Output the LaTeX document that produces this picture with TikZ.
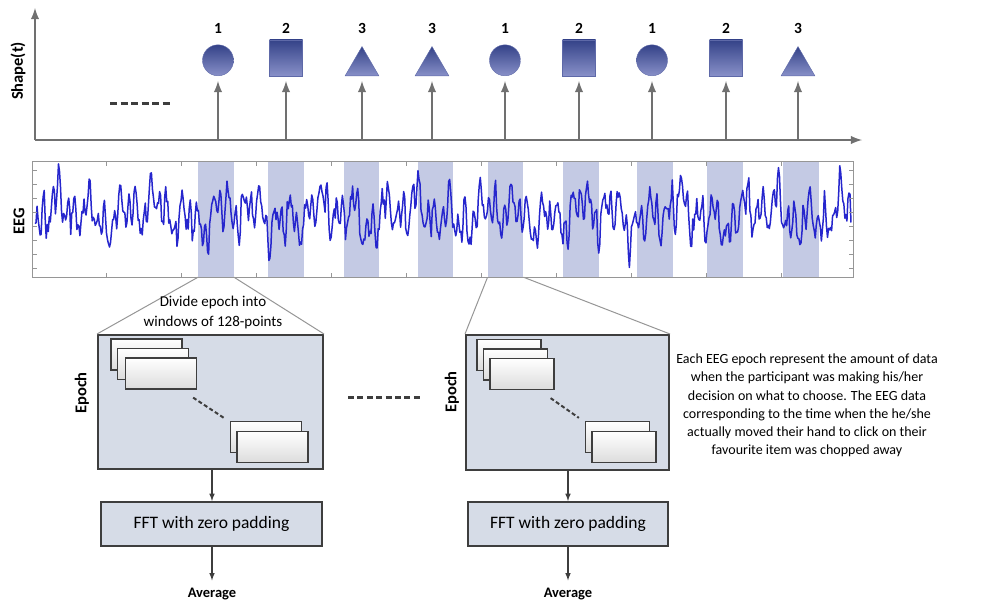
\documentclass[tikz,border=0pt]{standalone}
\usepackage{fontspec}
\setmainfont{Carlito}
\usepackage{tikz}
\usetikzlibrary{arrows,shapes.geometric,calc}

\definecolor{axisgrey}{RGB}{112,112,112}
\definecolor{shapetop}{RGB}{52,66,136}
\definecolor{shapebot}{RGB}{136,144,200}
\definecolor{bandblue}{RGB}{196,202,228}
\definecolor{eegblue}{RGB}{38,38,205}
\definecolor{boxfill}{RGB}{214,220,231}
\definecolor{boxline}{RGB}{62,62,62}
\definecolor{zoomgrey}{RGB}{150,150,150}
\definecolor{wingrey}{RGB}{220,220,220}

\tikzset{
  sym/.style={top color=shapetop, bottom color=shapebot,
    draw=shapetop!50!shapebot, line width=0.4pt, inner sep=0pt, anchor=south},
  circ/.style={sym, ellipse, minimum width=31pt, minimum height=31pt},
  sqr/.style={sym, rectangle, minimum width=33pt, minimum height=36pt},
  tri/.style={sym, regular polygon, regular polygon sides=3, minimum size=39pt},
  num/.style={font=\fontsize{15.5}{17}\selectfont\bfseries},
  vlab/.style={rotate=90, font=\fontsize{16.5}{19}\selectfont\bfseries},
  axis/.style={draw=axisgrey, line width=2.8pt, -latex},
  stem/.style={draw=axisgrey, line width=2.8pt, -latex, shorten >=5pt},
  gap/.style={draw=boxline, line width=3pt, dash pattern=on 7pt off 3.5pt},
  band/.style={fill=bandblue, minimum width=35.5pt, minimum height=115pt, inner sep=0pt},
  tick/.style={draw=zoomgrey, line width=0.6pt},
  epochbox/.style={draw=boxline, fill=boxfill, line width=2pt},
  fftbox/.style={draw=boxline, fill=boxfill, line width=2pt, minimum height=44pt,
    font=\fontsize{17.5}{20}\selectfont},
  win/.style={draw=boxline, line width=1.2pt, top color=white, bottom color=wingrey,
    minimum height=31pt, inner sep=0pt},
  flow/.style={draw=boxline, line width=1.5pt, -latex},
  zoomline/.style={draw=zoomgrey, line width=1pt},
  avg/.style={font=\fontsize{14.5}{17}\selectfont\bfseries, inner ysep=8pt},
  note/.style={align=center, font=\fontsize{14}{18.3}\selectfont}
}

\begin{document}
\begin{tikzpicture}[x=1pt, y=-1pt]
\useasboundingbox (0,0) rectangle (996,603);

% time axis with the shown shapes
\coordinate (origin) at (35,140);
\coordinate (ytop) at (35,8);
\coordinate (xend) at (862,140);
\draw[axis] (origin) -- (ytop);
\draw[axis] (origin) -- (xend);
\node[vlab] (shp) at (18,71) {Shape(t)};
\draw[gap] (110,103) -- (172,103);

\node (eeg) at (443,219.5) [minimum width=820pt, minimum height=115pt, inner sep=0pt] {};

\foreach \x/\sh/\lab/\c [count=\i] in {218/circ/1/216, 286/sqr/2/286, 362/tri/3/361.5,
    432/tri/3/435.5, 505/circ/1/505.5, 579/sqr/2/581, 652/circ/1/655, 726/sqr/2/725, 798/tri/3/801}{
  \node[\sh] (s\i) at (\x,76) {};
  \node[num] (n\i) at (\x,28) {\lab};
  \draw[stem] (s\i |- origin) -- (s\i.south);
  \node[band] (b\i) at (\c,219.5) {};
}

% eeg trace
\begin{scope}
\clip (eeg.south west) rectangle (eeg.north east);
\pgfmathsetseed{42}
\draw[eegblue, line width=1.5pt, line join=round] plot[domain=35:851, samples=800]
  (\x, {214 + 13*sin(47*mod(\x,7.6596)) + 12*sin(23*mod(\x,15.652)+40)
    + 10*sin(11*mod(\x,32.727)) + 8*sin(4.1*mod(\x,87.805)+20)
    + 7*sin(71*mod(\x,5.0704)+70) + 9*rand});
\end{scope}
\draw[draw=zoomgrey, line width=1pt] (eeg.south west) rectangle (eeg.north east);
\foreach \t in {106,181,...,784}{
  \draw[tick] (\t,277) -- (\t,273);
  \draw[tick] (\t,162) -- (\t,166);
}
\foreach \v in {170,184,...,268}{
  \draw[tick] (33,\v) -- (37,\v);
  \draw[tick] (853,\v) -- (849,\v);
}
\node[vlab] (eeglab) at (19,221) {EEG};

% epochs
\node[epochbox, minimum width=225pt, minimum height=134pt] (ep1) at (210.5,402) {};
\node[epochbox, minimum width=203pt, minimum height=135pt] (ep2) at (567.5,402.5) {};
\draw[zoomline] (b1.south west) -- (ep1.north west);
\draw[zoomline] (b1.south east) -- (ep1.north east);
\draw[zoomline] (b5.south west) -- (ep2.north west);
\draw[zoomline] (b5.south east) -- (ep2.north east);
\node[align=center, font=\fontsize{15}{20}\selectfont] (divtxt) at (213,312) {Divide epoch into\\windows of 128-points};
\node[vlab] (el1) at (82,393) {Epoch};
\node[vlab] (el2) at (452,392) {Epoch};

\foreach \nm/\cx/\cy in {w1a/146.5/354.5, w1b/153/364, w1c/161/373.5, w1d/266/437, w1e/272.5/447}
  \node[win, minimum width=71pt] (\nm) at (\cx,\cy) {};
\foreach \nm/\cx/\cy in {w2a/509/355, w2b/515.5/364.5, w2c/522/374, w2d/617.5/437, w2e/624/447}
  \node[win, minimum width=64pt] (\nm) at (\cx,\cy) {};
\draw[boxline, line width=2pt, dash pattern=on 4pt off 2.5pt] ($(w1c.south east)+(-4,8)$) -- ($(w1d.north west)+(-6,-3)$);
\draw[boxline, line width=2pt, dash pattern=on 4pt off 2.5pt] ($(w2c.south east)+(-4,8)$) -- ($(w2d.north west)+(-6,-3)$);
\draw[gap, dash pattern=on 6pt off 3.4pt] (348,397) -- (423,397);

\node[fftbox, minimum width=221pt] (fft1) at (211.5,524) {FFT with zero padding};
\node[fftbox, minimum width=200pt] (fft2) at (568,524) {FFT with zero padding};
\node[avg] (av1) at (212,594.5) {Average};
\node[avg] (av2) at (568,594.5) {Average};
\draw[flow] (ep1.south -| av1) -- (fft1.north -| av1);
\draw[flow] (fft1.south -| av1) -- (av1.north);
\draw[flow] (ep2.south -| av2) -- (fft2.north -| av2);
\draw[flow] (fft2.south -| av2) -- (av2.north);

\node[note] (note) at (807,405.5) {Each EEG epoch represent the amount of data\\
when the participant was making his/her\\
decision on what to choose. The EEG data\\
corresponding to the time when the he/she\\
actually moved their hand to click on their\\
favourite item was chopped away};
\end{tikzpicture}
\end{document}
